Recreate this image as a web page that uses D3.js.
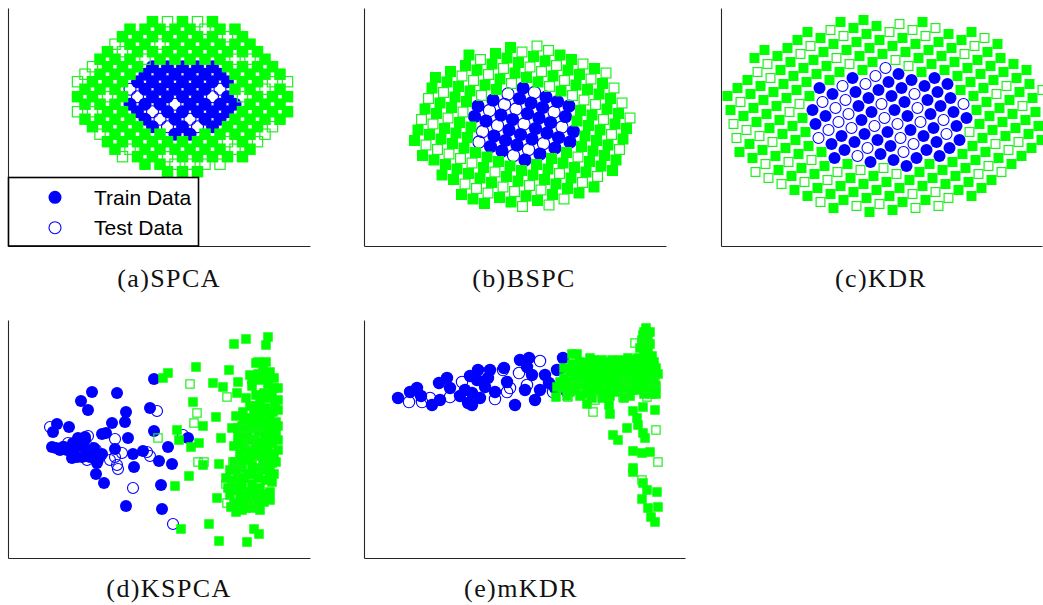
<!DOCTYPE html>
<html>
<head>
<meta charset="utf-8">
<script src="https://cdn.jsdelivr.net/npm/d3@7"></script>
<style>
  body { margin: 0; background: #fff; }
  svg { display: block; }
</style>
</head>
<body>
<svg id="chart" width="1043" height="605"></svg>
<script>
// ---------------------------------------------------------------
// Projected two-class data: class 1 (blue circles), class 2 (green
// squares); filled = training samples, hollow = test samples.
// ---------------------------------------------------------------

const captions = ["(a)SPCA", "(b)BSPC", "(c)KDR", "(d)KSPCA", "(e)mKDR"];
const legendLabels = ["Train Data", "Test Data"];

// ---- (a) SPCA -------------------------------------------------
const spcaTrainBlue = [
  [22,14],[24,14],
  [19,15],[23,15],[27,15],
  [18,16],[22,16],[26,16],[28,16],
  [17,17],[21,17],[23,17],[25,17],[27,17],[29,17],
  [16,18],[18,18],[20,18],[24,18],[26,18],[28,18],[30,18],
  [19,19],[21,19],[23,19],[25,19],[29,19],
  [18,20],[20,20],[22,20],[24,20],[26,20],
  [17,21],[19,21],[21,21],[23,21],[25,21],[27,21],[29,21],
  [18,22],[20,22],[22,22],[24,22],[26,22],[28,22],
  [19,23],[21,23],[23,23],[25,23],[27,23]
];
const spcaTestBlue = [
  [21,15],[25,15],[20,16],[24,16],[19,17],[22,18],[17,19],[27,19],[16,20],[28,20]
];
const spcaTrainGreen = [
  [21,9],[23,9],[25,9],
  [18,10],[20,10],
  [17,11],[19,11],[23,11],[25,11],[27,11],[29,11],[31,11],
  [14,12],[18,12],[20,12],[22,12],[24,12],[26,12],[28,12],[32,12],
  [13,13],[15,13],[17,13],[19,13],[21,13],[23,13],[25,13],[27,13],[31,13],
  [14,14],[16,14],[18,14],[20,14],[26,14],[28,14],[30,14],[32,14],
  [11,15],[13,15],[15,15],[17,15],[29,15],[31,15],[33,15],
  [10,16],[12,16],[14,16],[16,16],[30,16],[32,16],[34,16],[36,16],
  [13,17],[15,17],[31,17],[33,17],[35,17],[37,17],
  [10,18],[12,18],[14,18],[32,18],[34,18],[36,18],
  [9,19],[11,19],[15,19],[33,19],[35,19],[37,19],
  [10,20],[12,20],[14,20],[30,20],[32,20],[36,20],
  [11,21],[13,21],[15,21],[31,21],[33,21],
  [12,22],[14,22],[16,22],[30,22],[32,22],[34,22],[36,22],
  [13,23],[15,23],[17,23],[29,23],[31,23],[33,23],[35,23],
  [12,24],[14,24],[16,24],[20,24],[22,24],[24,24],[26,24],[28,24],[34,24],
  [13,25],[17,25],[19,25],[21,25],[23,25],[25,25],[27,25],[29,25],[31,25],[33,25],
  [16,26],[18,26],[22,26],[24,26],[26,26],[28,26],[30,26],[32,26],
  [15,27],[17,27],[19,27],[21,27],[23,27],[25,27],[27,27],[31,27],
  [16,28],[18,28],[20,28],[22,28],[24,28],[28,28],[30,28],
  [19,29],[23,29],[27,29]
];
const spcaTestGreen = [
  [22,10],[24,10],[26,10],[28,10],[15,11],[21,11],[16,12],[30,12],[29,13],[33,13],
  [12,14],[34,14],[35,15],[9,17],[11,17],[13,19],[31,19],[34,20],[9,21],[35,21],
  [37,21],[10,22],[11,23],[18,24],[30,24],[32,24],[15,25],[14,26],[20,26],[29,27],
  [26,28],[21,29],[25,29]
];

// ---- (b) BSPC -------------------------------------------------
const bspcTrainBlue = [
  [110.5,129.5],[114,140],[122,125],[129,146],[126.5,99.5],[130,110],[137,131],
  [138,95],[141.5,105.5],[145,116],[148.5,126.5],[155.5,147.5],[159,158],
  [153,101],[156.5,111.5],[163.5,132.5],[167,143],[161,86],[168,107],[171.5,117.5],
  [175,128],[178.5,138.5],[182,149],[176,92],[183,113],[186.5,123.5],[193.5,144.5],
  [191,98],[194.5,108.5],[201.5,129.5],[205,140],[206,104],[209.5,114.5]
];
const bspcTestBlue = [
  [144,152],[140.5,141.5],[125.5,135.5],[115,104],[118.5,114.5],[160,122],[190,134],
  [149.5,90.5],[170.5,153.5],[164.5,96.5],[198,119],[152,137],[179.5,102.5],[133.5,120.5]
];
const bspcTrainGreen = [
  [50.5,105.5],[54,116],[61,137],[68,158],[71.5,168.5],
  [58.5,90.5],[65.5,111.5],[72.5,132.5],[76,143],[83,164],[86.5,174.5],
  [70,86],[77,107],[80.5,117.5],[87.5,138.5],[91,149],[94.5,159.5],[101.5,180.5],[105,191],
  [78,71],[81.5,81.5],[88.5,102.5],[92,113],[95.5,123.5],[102.5,144.5],[106,155],[113,176],
  [89.5,66.5],[93,77],[100,98],[103.5,108.5],[107,119],[121,161],[128,182],[131.5,192.5],
  [97.5,51.5],[104.5,72.5],[111.5,93.5],[132.5,156.5],[136,167],[143,188],[146.5,198.5],
  [109,47],[116,68],[119.5,78.5],[123,89],[151,173],[154.5,183.5],
  [120.5,42.5],[127.5,63.5],[134.5,84.5],[162.5,168.5],[169.5,189.5],
  [135.5,48.5],[142.5,69.5],[146,80],[174,164],[181,185],
  [147,44],[154,65],[157.5,75.5],[189,170],[196,191],
  [162,50],[169,71],[172.5,81.5],[197,155],[204,176],[207.5,186.5],
  [173.5,45.5],[180.5,66.5],[184,77],[187.5,87.5],[212,161],[215.5,171.5],
  [188.5,51.5],[192,62],[199,83],[202.5,93.5],[213,125],[216.5,135.5],[223.5,156.5],[230.5,177.5],
  [203.5,57.5],[207,68],[210.5,78.5],[217.5,99.5],[221,110],[224.5,120.5],[228,131],[235,152],[238.5,162.5],
  [215,53],[222,74],[225.5,84.5],[229,95],[232.5,105.5],[236,116],[243,137],[246.5,147.5],
  [230,59],[237,80],[240.5,90.5],[244,101],[251,122],[254.5,132.5],
  [248.5,75.5],[252,86],[259,107],[262.5,117.5]
];
const bspcTestGreen = [
  [57.5,126.5],[64.5,147.5],[62,101],[69,122],[79.5,153.5],[73.5,96.5],[84,128],[98,170],
  [85,92],[99,134],[109.5,165.5],[116.5,186.5],[96.5,87.5],[117.5,150.5],[124.5,171.5],
  [101,62],[108,83],[139.5,177.5],[112.5,57.5],[147.5,162.5],[158,194],
  [124,53],[131,74],[166,179],[173,200],[139,59],[177.5,174.5],[184.5,195.5],
  [150.5,54.5],[185.5,159.5],[192.5,180.5],[158.5,39.5],[165.5,60.5],[200.5,165.5],
  [177,56],[208.5,150.5],[219,182],[185,41],[195.5,72.5],[220,146],[227,167],
  [200,47],[214,89],[231.5,141.5],[242,173],[218.5,63.5],[239.5,126.5],[250,158],
  [233.5,69.5],[247.5,111.5],[258,143],[255.5,96.5],[266,128]
];

// ---- (c) KDR --------------------------------------------------
const kdrTrainBlue = [
  [96,155],[89,133],[109,149],[129,165],[92,119],[102,127],[132,151],
  [135,137],[145,145],[155,153],[165,161],[175,169],
  [108,99],[118,107],[138,123],[148,131],[168,147],[178,155],[188,163],
  [111,85],[121,93],[131,101],[141,109],[171,133],[181,141],[201,157],[211,165],
  [154,103],[164,111],[184,127],[204,143],[214,151],[224,159],
  [147,81],[157,89],[167,97],[187,113],[207,129],[217,137],[227,145],
  [170,83],[200,107],[210,115],[230,131],
  [183,77],[193,85],[203,93],[213,101],[233,117],[243,125],
  [216,87],[226,95],[236,103]
];
const kdrTestBlue = [
  [119,157],[152,167],[99,141],[122,143],[142,159],[112,135],[125,129],[115,121],
  [105,113],[128,115],[95,105],[134,87],[144,95],[151,117],[162,175],[191,149],
  [158,139],[194,135],[174,119],[197,121],[220,123],[223,109],[240,139],[161,125],
  [177,105],[190,99],[180,91]
];
const kdrTrainGreen = [
  [31,185],[41,193],
  [4,147],[14,155],[24,163],[54,187],[64,195],[74,203],[84,211],
  [7,133],[27,149],[37,157],[57,173],[67,181],[97,205],[117,221],
  [20,127],[30,135],[40,143],[50,151],[60,159],[70,167],[80,175],[90,183],[100,191],[110,199],[130,215],[140,223],
  [33,121],[43,129],[53,137],[63,145],[73,153],[83,161],[93,169],[103,177],[123,193],[133,201],[143,209],[153,217],
  [16,91],[26,99],[46,115],[56,123],[86,147],[106,163],[116,171],[136,187],[146,195],[156,203],
  [29,85],[39,93],[59,109],[69,117],[79,125],[139,173],[149,181],[159,189],[169,197],[179,205],[199,221],
  [52,87],[62,95],[72,103],[82,111],[182,191],[192,199],
  [55,73],[75,89],[85,97],[195,185],[205,193],[215,201],[225,209],
  [68,67],[78,75],[98,91],[198,171],[208,179],[218,187],[228,195],[238,203],[248,211],
  [71,53],[91,69],[101,77],[221,173],[231,181],
  [84,47],[94,55],[124,79],[234,167],[244,175],[254,183],[264,191],[274,199],
  [107,49],[117,57],[127,65],[237,153],[247,161],[257,169],[267,177],[277,185],
  [110,35],[120,43],[130,51],[140,59],[150,67],[250,147],[260,155],[270,163],[280,171],[290,179],
  [143,45],[153,53],[163,61],[253,133],[263,141],[293,165],[303,173],
  [146,31],[166,47],[176,55],[186,63],[196,71],[206,79],[256,119],[266,127],[276,135],[286,143],[296,151],[306,159],
  [169,33],[179,41],[199,57],[209,65],[219,73],[229,81],[239,89],[249,97],[259,105],[269,113],[279,121],[289,129],[309,145],
  [202,43],[222,59],[232,67],[242,75],[252,83],[262,91],[282,107],[292,115],[302,123],[312,131],
  [235,53],[245,61],[275,85],[305,109],[315,117],
  [248,47],[258,55],[268,63],[288,79],[298,87],[308,95],[318,103]
];
const kdrTestGreen = [
  [34,171],[44,179],[17,141],[47,165],[77,189],[87,197],[107,213],[10,119],[120,207],
  [13,105],[23,113],[113,185],[36,107],[66,131],[76,139],[126,179],[166,211],[176,219],
  [49,101],[189,213],[32,71],[42,79],[172,183],[202,207],[212,215],[45,65],[65,81],
  [185,177],[58,59],[88,83],[81,61],[241,189],[251,197],[261,205],[104,63],[114,71],
  [97,41],[137,73],[160,75],[133,37],[173,69],[273,149],[283,157],[156,39],[246,111],
  [189,49],[299,137],[319,153],[192,35],[212,51],[272,99],[215,37],[225,45],[255,69],
  [265,77],[285,93],[295,101],[278,71]
];

// ---- (d) KSPCA ------------------------------------------------
const kspcaTrainBlue = [
  [146,179],[84,166],[109,165],[73,157],[80,148],[142,150],[118,146],[49,134],[45,126],
  [61,131],[104,135],[117,136],[94,124],[98,125],[120,120],[146,127],[70,120],[77,118],
  [72,113],[67,110],[62,108],[55,111],[48,110],[64,100],[74,101],[82,101],[90,98],[94,104],
  [84,108],[107,109],[125,104],[135,107],[88,84],[96,75],[126,91],[151,97],[160,111],
  [164,94],[180,120],[153,73],[118,52],[154,49],[56,111],[44,111],[52,108],[59,108],
  [65,115],[78,108],[86,110],[69,101],[89,95],[77,121],[75,113]
];
const kspcaTestBlue = [
  [42,131],[80,122],[81,111],[107,119],[149,147],[175,123],[114,105],[107,101],[109,93],
  [110,89],[139,106],[142,102],[125,70],[165,34],[79,98],[88,108],[102,98],[72,118],[60,115]
];
const kspcaTrainGreen = [
  [226,214],[238,219],[260,221],[258,213],[250,196],[188,191],[221,188],[242,183],[230,176],
  [205,175],[215,171],[229,165],[160,185],[155,180],[185,156],[208,141],[195,132],[169,128],
  [171,118],[183,111],[191,115],[213,120],[211,94],[195,93],[181,82],[167,72],[209,60],
  [201,34],[173,29],[211,17],[239,16],[246,29],[251,24],[223,51],[227,68],
  [248,195],[255,188],[262,186],[252,178],[260,174],[244,172],[266,170],[256,165],[248,163],
  [238,160],[262,160],[267,155],[252,155],[242,152],[258,150],[246,146],[265,146],[235,146],
  [228,142],[240,140],[252,140],[262,140],[268,136],[245,134],[256,133],[234,132],[224,130],
  [262,128],[250,127],[240,125],[268,124],[230,122],[257,120],[246,118],[236,116],[264,115],
  [252,112],[226,112],[242,108],[258,106],[266,104],[232,104],[248,102],[238,98],[255,96],
  [264,95],[226,96],[244,92],
  [234,90],[254,88],[262,86],[222,88],[240,84],[250,80],[230,80],[258,78],[218,80],[244,74],
  [234,72],[226,70],[252,70],[240,66],[262,66],[222,63],[248,60],[232,60],[256,56],[240,56],
  [226,55],[244,50],[252,48],[234,48],
  [270,170],[270,158],[270,148],[270,132],[270,118],[270,108],[268,96],[266,84],[264,76],
  [260,92],[260,100],[260,112],[260,124],[260,136],[260,146],[254,104],[254,116],[254,126],
  [254,146],[254,160],[248,110],[248,132],[248,140],[248,152],[242,130],[242,118],[242,100],
  [236,108],[236,122],[236,138],[230,114],[230,130],[230,96],[250,90],[244,84],[236,80],
  [228,88],[256,64],[246,66],[238,62],[230,68],[224,78],[262,58],[250,54],[238,50],[232,54],
  [228,46],[220,70],[266,180],[258,182],[250,184],[244,178],[258,196],[264,164]
];
const kspcaTestGreen = [
  [182,174],[219,161],[189,145],[186,135],[150,120],[190,96],[196,96],[218,74],[219,55],
  [225,96],[242,115],[245,53],[236,129],[252,95],[230,88],[248,124]
];

// ---- (e) mKDR -------------------------------------------------
const mkdrTrainBlue = [
  [34,160],[46,166],[53,170],[68,153],[76,158],[75,175],[83,180],[86,170],[106,182],
  [101,168],[108,165],[114,188],[108,153],[116,160],[121,171],[126,188],[131,166],
  [124,180],[143,176],[151,153],[156,198],[165,200],[163,191],[168,183],[161,168],
  [171,158],[176,168],[181,183],[193,188],[199,200],[191,170],[203,166],[113,178],
  [104,155],[140,190],[96,162],[185,175],[57,162]
];
const mkdrTestBlue = [
  [45,156],[58,156],[86,161],[116,186],[139,188],[131,159],[146,170],[143,166],[176,197],
  [163,173],[189,166],[203,181],[66,160],[98,176],[155,185]
];
const mkdrTrainGreen = [
  [208,204],[213,204],[230,198],[244,196],[256,198],[279,223],[281,213],[193,171],[192,161],
  [223,154],[245,153],[246,144],[269,147],[273,140],[291,148],[279,151],[263,130],[274,133],
  [279,125],[281,120],[249,123],[254,118],[269,107],[278,105],[286,106],[269,90],[269,86],
  [279,75],[283,68],[293,66],[278,59],[284,50],[294,51],[287,41],[291,36],
  [280,226],[284,222],[278,218],[286,214],[276,210],[283,206],[288,202],[274,200],[280,196],
  [287,192],[290,186],[276,188],[268,192],[282,184],[272,180],[288,178],[264,184],
  [200,180],[206,186],[210,176],[214,190],[218,182],[222,172],[226,186],[230,178],[234,168],
  [236,190],[240,182],[244,172],[248,188],[250,178],[254,166],[256,186],[258,176],[262,170],
  [264,192],[266,162],[270,174],[274,168],[278,176],[284,170],[288,164],[292,172],[290,196],
  [260,160],[246,162],[238,176],[232,192],[220,195],[212,168],[204,170],[228,160],[242,194],
  [252,196],[268,198],[216,162],[224,178],[234,182],[246,180],[256,170],[272,188],[280,164],
  [286,182],[292,190],[208,194],[198,170],[203,162],
  [196,176],[202,176],[206,166],[212,182],[216,174],[220,188],[226,168],[228,194],[232,172],
  [236,184],[240,166],[242,188],[246,174],[250,168],[252,184],[258,190],[260,182],[262,176],
  [266,186],[270,180],[274,194],[278,182],[282,190],[284,176],[288,170],[290,180],[286,196],
  [282,200],[276,172],[268,168],[264,200],[254,192],[248,198],[238,198],[226,200],[216,196],
  [210,186],[200,190],[222,164],[238,160],[244,166],[252,172],[294,184],[292,164],[284,208],
  [280,204],[278,214],[286,226],[282,230]
];
const mkdrTestGreen = [
  [271,215],[283,218],[204,161],[229,146],[259,161],[291,176],[283,161],[292,128],[294,96],
  [278,78],[231,158],[212,172],[262,176]
];

// ---------------------------------------------------------------
// Panel set-up
// ---------------------------------------------------------------
const panels = [
  { caption: captions[0], left: 8,   right: 310,  top: 8,   bottom: 246,
    xDomain: [-0.267, 40], yDomain: [-0.907, 30.827], sq: 11.5, r: 6.5,
    trainBlue: spcaTrainBlue, testBlue: spcaTestBlue, trainGreen: spcaTrainGreen, testGreen: spcaTestGreen,
    capX: 169, capY: 287, legend: true },
  { caption: captions[1], left: 364, right: 666,  top: 8,   bottom: 246,
    xDomain: [0, 302], yDomain: [0, 238], sq: 11, r: 6.6,
    trainBlue: bspcTrainBlue, testBlue: bspcTestBlue, trainGreen: bspcTrainGreen, testGreen: bspcTestGreen,
    capX: 524, capY: 287 },
  { caption: captions[2], left: 721, right: 1042, top: 8,   bottom: 246,
    xDomain: [-2.5, 318.5], yDomain: [-3, 235], sq: 10, r: 6,
    trainBlue: kdrTrainBlue, testBlue: kdrTestBlue, trainGreen: kdrTrainGreen, testGreen: kdrTestGreen,
    capX: 881, capY: 287 },
  { caption: captions[3], left: 8,   right: 310,  top: 320, bottom: 558,
    xDomain: [0, 302], yDomain: [0, 238], sq: 9.5, r: 6,
    trainBlue: kspcaTrainBlue, testBlue: kspcaTestBlue, trainGreen: kspcaTrainGreen, testGreen: kspcaTestGreen,
    capX: 169, capY: 597 },
  { caption: captions[4], left: 364, right: 685,  top: 320, bottom: 558,
    xDomain: [0, 321], yDomain: [0, 238], sq: 9.5, r: 6.2,
    trainBlue: mkdrTrainBlue, testBlue: mkdrTestBlue, trainGreen: mkdrTrainGreen, testGreen: mkdrTestGreen,
    capX: 521, capY: 597 }
];

const BLUE = "#0000ff";
const GREEN = "#00ff00";
const GREEN_EDGE = "#22ee22";
const AXIS = "#262626";

const svg = d3.select("#chart");
svg.append("rect").attr("width", 1043).attr("height", 605).attr("fill", "#fff");

panels.forEach(p => {
  const x = d3.scaleLinear().domain(p.xDomain).range([p.left, p.right]);
  const y = d3.scaleLinear().domain(p.yDomain).range([p.bottom, p.top]);
  const g = svg.append("g");

  // blue class: training (filled) then test (hollow)
  g.append("g").selectAll("circle").data(p.trainBlue).join("circle")
    .attr("cx", d => x(d[0])).attr("cy", d => y(d[1])).attr("r", p.r)
    .attr("fill", BLUE);
  g.append("g").selectAll("circle").data(p.testBlue).join("circle")
    .attr("cx", d => x(d[0])).attr("cy", d => y(d[1])).attr("r", p.r - 0.5)
    .attr("fill", "none").attr("stroke", BLUE).attr("stroke-width", 1.1);

  // green class: training (filled) then test (hollow)
  g.append("g").selectAll("rect").data(p.trainGreen).join("rect")
    .attr("x", d => x(d[0]) - p.sq / 2).attr("y", d => y(d[1]) - p.sq / 2)
    .attr("width", p.sq).attr("height", p.sq)
    .attr("fill", GREEN);
  g.append("g").selectAll("rect").data(p.testGreen).join("rect")
    .attr("x", d => x(d[0]) - p.sq / 2 + 0.6).attr("y", d => y(d[1]) - p.sq / 2 + 0.6)
    .attr("width", p.sq - 1.2).attr("height", p.sq - 1.2)
    .attr("fill", "none").attr("stroke", GREEN_EDGE).attr("stroke-width", 1.2);

  // left and bottom axis lines, no ticks
  const xAxis = g.append("g").attr("transform", `translate(0,${p.bottom})`)
    .call(d3.axisBottom(x).tickValues([]).tickSizeOuter(0));
  const yAxis = g.append("g").attr("transform", `translate(${p.left},0)`)
    .call(d3.axisLeft(y).tickValues([]).tickSizeOuter(0));
  [xAxis, yAxis].forEach(a => a.select(".domain").attr("stroke", AXIS).attr("stroke-width", 1.1));

  // caption under the panel
  svg.append("text")
    .attr("x", p.capX).attr("y", p.capY)
    .attr("text-anchor", "middle")
    .attr("font-family", "'Liberation Serif', 'Times New Roman', serif")
    .attr("font-size", 26)
    .attr("letter-spacing", 1.4)
    .attr("fill", "#111")
    .text(p.caption);

  if (p.legend) {
    const lg = svg.append("g");
    lg.append("rect")
      .attr("x", 8.5).attr("y", 177.5).attr("width", 190).attr("height", 68.5)
      .attr("fill", "#fff").attr("stroke", "#000").attr("stroke-width", 1.6);
    const rows = [
      { label: legendLabels[0], cy: 197.3, base: 204.5, filled: true },
      { label: legendLabels[1], cy: 227.7, base: 234.5, filled: false }
    ];
    rows.forEach(rw => {
      lg.append("circle")
        .attr("cx", 55).attr("cy", rw.cy).attr("r", rw.filled ? 6.5 : 6)
        .attr("fill", rw.filled ? BLUE : "none")
        .attr("stroke", rw.filled ? "none" : BLUE)
        .attr("stroke-width", 1.1);
      lg.append("text")
        .attr("x", 94).attr("y", rw.base)
        .attr("font-family", "'Liberation Sans', Arial, Helvetica, sans-serif")
        .attr("font-size", 21)
        .attr("fill", "#000")
        .text(rw.label);
    });
  }
});
</script>
</body>
</html>
